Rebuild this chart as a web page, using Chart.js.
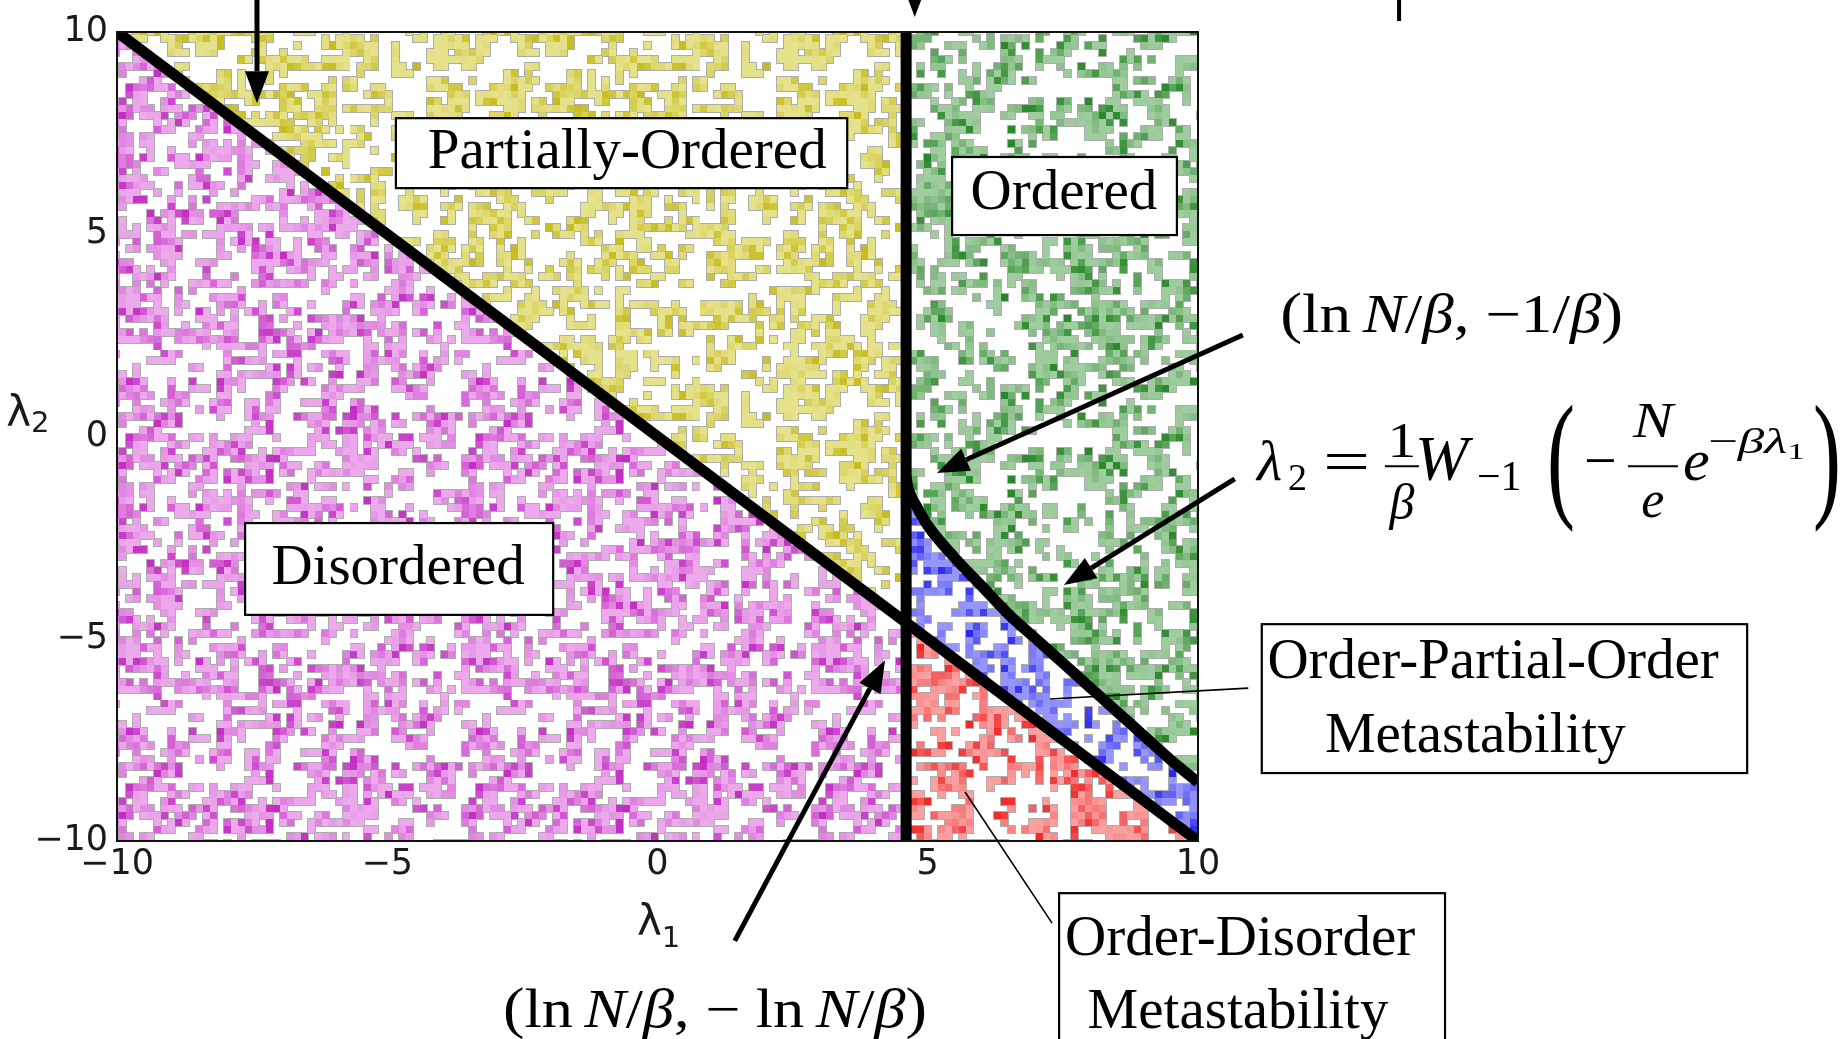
<!DOCTYPE html>
<html>
<head>
<meta charset="utf-8">
<script src="https://cdn.jsdelivr.net/npm/chart.js@4.4.0/dist/chart.umd.min.js"></script>
<style>
html, body { margin: 0; padding: 0; background: #fff; }
#wrap { width: 1844px; height: 1039px; position: relative; }
</style>
</head>
<body>
<div id="wrap"><canvas id="phase"></canvas></div>
<script>
// tick labels
const xTicks = [-10, -5, 0, 5, 10]
const yTicks = [-10, -5, 0, 5, 10]

// phase boundaries (lambda1, lambda2)
const diagX = [-10, 4.6]
const diagY = [10, -4.6]
const vertX = [4.6, 4.6]
const vertY = [-10, 10]
const curveX = [4.6, 4.63, 4.7, 4.8, 5.0, 5.5, 6.0, 6.5, 7.0, 7.5, 8.0, 8.5, 9.0, 9.5, 10]
const curveY = [-1.0, -1.25, -1.5, -1.75, -2.2, -3.0, -3.7, -4.4, -5.0, -5.6, -6.2, -6.8, -7.4, -8.0, -8.55]
const lowX = [4.6, 10]
const lowY = [-4.6, -10]

// phase regions (corners)
const disorderedX = [-10, 4.6, 4.6, -10, -10]
const disorderedY = [10, -4.6, -10, -10, 10]
const partialX = [-10, 4.6, 4.6, -10]
const partialY = [10, 10, -4.6, 10]
const orderedX = [4.6, 10].concat(curveX.slice().reverse())
const orderedY = [10, 10].concat(curveY.slice().reverse())
const opoX = curveX.concat([10, 4.6])
const opoY = curveY.concat([-10, -4.6])
const odX = [4.6, 10, 4.6, 4.6]
const odY = [-4.6, -10, -10, -4.6]

const pts = (xs, ys) => xs.map((x, i) => ({x: x, y: ys[i]}))

const canvas = document.getElementById("phase")
const ctx0 = canvas.getContext("2d")

// speckle texture standing in for the sampled points (style only)
function hash(i, j, s) {
  let h = Math.imul(i, 73856093) ^ Math.imul(j, 19349663) ^ Math.imul(s, 83492791)
  h = Math.imul(h ^ (h >>> 16), 0x85ebca6b)
  h = Math.imul(h ^ (h >>> 13), 0xc2b2ae35)
  h ^= h >>> 16
  return (h >>> 0) / 4294967296
}
function mix(a, b, t) {
  return "rgb(" + a.map((v, k) => Math.round(v + (b[k] - v) * t)).join(",") + ")"
}
function speckle(light, dark, seed) {
  const cell = 7, n = 50
  const tile = document.createElement("canvas")
  tile.width = tile.height = cell * n
  const g = tile.getContext("2d")
  const w = (i) => (i + n) % n
  const on = []
  for (let i = 0; i < n; i++) {
    for (let j = 0; j < n; j++) {
      const v = 3 * hash(i, j, seed) + hash(w(i + 1), j, seed) + hash(w(i - 1), j, seed) +
        hash(i, w(j + 1), seed) + hash(i, w(j - 1), seed)
      if (v > 3.55) on.push([i, j])
    }
  }
  g.fillStyle = "rgba(165,165,165,0.9)"
  on.forEach(([i, j]) => g.fillRect(i * cell - 1, j * cell - 1, cell + 2, cell + 2))
  g.filter = "blur(0.7px)"
  on.forEach(([i, j]) => {
    const t = hash(j + 31, i + 17, seed + 7)
    g.fillStyle = mix(light, dark, t * t * t)
    g.fillRect(i * cell, j * cell, cell, cell)
  })
  return ctx0.createPattern(tile, "repeat")
}

const magenta = speckle([236, 170, 236], [195, 45, 195], 1)
const yellow = speckle([230, 226, 140], [198, 188, 30], 2)
const green = speckle([160, 205, 160], [40, 135, 40], 3)
const blue = speckle([150, 150, 250], [40, 40, 240], 4)
const red = speckle([250, 160, 160], [240, 40, 40], 5)

function boundary(label, data, extra) {
  return Object.assign({
    label: label, data: data, borderColor: "#000", borderWidth: 11,
    pointRadius: 0, fill: false, tension: 0, order: 0
  }, extra || {})
}
function region(label, data, pattern) {
  return {
    label: label, data: data, backgroundColor: pattern, borderWidth: 0,
    borderColor: "rgba(0,0,0,0)", pointRadius: 0, fill: "shape", tension: 0, order: 5
  }
}

// annotation layout in data coordinates
const arrows = [
  [-7.41, 10.91, -7.41, 8.24],
  [4.76, 10.91, 4.76, 10.37],
  [10.83, 2.51, 5.17, -0.90],
  [10.68, -1.05, 7.52, -3.67],
  [1.43, -12.47, 4.21, -5.53]
]
const thinLines = [
  [7.26, -6.49, 10.93, -6.22],
  [5.69, -8.79, 7.30, -12.03]
]
const boxes = [
  {x0: -4.84, x1: 3.51, y0: 7.87, y1: 6.14, lines: [["Partially-Ordered", -0.56, 7.01]]},
  {x0: 5.45, x1: 9.61, y0: 6.91, y1: 4.98, lines: [["Ordered", 7.52, 6.0]]},
  {x0: -7.63, x1: -1.93, y0: -2.14, y1: -4.41, lines: [["Disordered", -4.80, -3.28]]},
  {x0: 11.18, x1: 20.16, y0: -4.64, y1: -8.32, lines: [["Order-Partial-Order", 15.46, -5.60], ["Metastability", 15.13, -7.43]]},
  {x0: 7.43, x1: 14.57, y0: -11.29, y1: -15.3, lines: [["Order-Disorder", 10.78, -12.45], ["Metastability", 10.74, -14.25]]}
]

const SERIF = "'Liberation Serif', 'Times New Roman', serif"
const up = s => s + "px " + SERIF
const it = s => "italic " + s + "px " + SERIF

function drawRuns(ctx, runs, x, y, width) {
  let total = 0
  runs.forEach(r => { ctx.font = r[1]; total += ctx.measureText(r[0]).width })
  const k = width ? width / total : 1
  ctx.save()
  ctx.translate(x, y)
  ctx.scale(k, 1)
  ctx.textAlign = "left"
  ctx.textBaseline = "alphabetic"
  let cx = 0
  runs.forEach(r => {
    ctx.font = r[1]
    ctx.fillText(r[0], cx, r[2] || 0)
    cx += ctx.measureText(r[0]).width
  })
  ctx.restore()
}

function arrow(ctx, x1, y1, x2, y2) {
  const ang = Math.atan2(y2 - y1, x2 - x1)
  const head = 32, half = 12
  const bx = x2 - head * Math.cos(ang), by = y2 - head * Math.sin(ang)
  ctx.beginPath()
  ctx.lineWidth = 5
  ctx.moveTo(x1, y1)
  ctx.lineTo(bx, by)
  ctx.stroke()
  ctx.beginPath()
  ctx.moveTo(x2, y2)
  ctx.lineTo(bx + half * Math.sin(ang), by - half * Math.cos(ang))
  ctx.lineTo(bx - half * Math.sin(ang), by + half * Math.cos(ang))
  ctx.closePath()
  ctx.fill()
}

const annotate = {
  id: "annotate",
  afterDraw(chart) {
    const ctx = chart.ctx
    const sx = chart.scales.x, sy = chart.scales.y
    const X = v => sx.getPixelForValue(v)
    const Y = v => sy.getPixelForValue(v)
    const a = chart.chartArea
    ctx.save()
    ctx.strokeStyle = "#111"
    ctx.lineWidth = 2
    ctx.strokeRect(a.left, a.top, a.right - a.left, a.bottom - a.top)

    ctx.strokeStyle = "#000"
    ctx.fillStyle = "#000"
    arrows.forEach(r => arrow(ctx, X(r[0]), Y(r[1]), X(r[2]), Y(r[3])))
    // short stub at the top right
    ctx.lineWidth = 4
    ctx.beginPath()
    ctx.moveTo(X(13.72), Y(10.91))
    ctx.lineTo(X(13.72), Y(10.27))
    ctx.stroke()

    ctx.lineWidth = 1.6
    thinLines.forEach(r => {
      ctx.beginPath()
      ctx.moveTo(X(r[0]), Y(r[1]))
      ctx.lineTo(X(r[2]), Y(r[3]))
      ctx.stroke()
    })

    boxes.forEach(b => {
      const x0 = X(b.x0), x1 = X(b.x1), y0 = Y(b.y0), y1 = Y(b.y1)
      ctx.fillStyle = "#fff"
      ctx.fillRect(x0, y0, x1 - x0, y1 - y0)
      ctx.strokeStyle = "#000"
      ctx.lineWidth = 2.2
      ctx.strokeRect(x0, y0, x1 - x0, y1 - y0)
      ctx.fillStyle = "#000"
      ctx.font = up(57)
      ctx.textAlign = "center"
      ctx.textBaseline = "middle"
      b.lines.forEach(l => ctx.fillText(l[0], X(l[1]), Y(l[2])))
    })

    // axis labels
    ctx.fillStyle = "#1a1a1a"
    const SANS = "'DejaVu Sans', sans-serif"
    drawRuns(ctx, [["λ", "42px " + SANS], ["1", "29px " + SANS, 12]], X(-0.38), Y(-12.32))
    drawRuns(ctx, [["λ", "42px " + SANS], ["2", "29px " + SANS, 6]], X(-12.05), Y(0.26))

    // formulas
    ctx.fillStyle = "#000"
    drawRuns(ctx, [["(", up(56)], ["ln", up(54)], [" ", up(40)], ["N", it(54)], ["/", up(54)], ["β", it(54)],
      [", ", up(54)], ["−1/", up(54)], ["β", it(54)], [")", up(56)]], X(11.52), Y(2.58), 343)
    drawRuns(ctx, [["(", up(56)], ["ln", up(54)], [" ", up(40)], ["N", it(54)], ["/", up(54)], ["β", it(54)],
      [", ", up(54)], ["− ln", up(54)], [" ", up(40)], ["N", it(54)], ["/", up(54)], ["β", it(54)], [")", up(56)]],
      X(-2.86), Y(-14.60), 424)

    // lambda_2 = 1/beta W_-1 ( -N/e e^{-beta lambda_1} )
    const fx = X(11.09), fy = Y(-1.08)
    const put = (t, f, dx, dy, align, k) => {
      ctx.save()
      ctx.font = f
      ctx.textAlign = align || "left"
      ctx.textBaseline = "alphabetic"
      ctx.translate(fx + dx, fy + dy)
      ctx.scale(k || 1, 1)
      ctx.fillText(t, 0, 0)
      ctx.restore()
    }
    put("λ", it(58), 0, 0)
    put("2", up(38), 31, 10)
    put("=", up(62), 66, 2, "left", 1.35)
    put("1", up(50), 145, -23, "center", 1.15)
    put("β", it(50), 145, 39, "center")
    put("W", it(64), 158, 0)
    put("−1", up(42), 220, 10)
    put("−", up(58), 327, 0)
    put("N", it(50), 396, -43, "center", 1.2)
    put("e", it(52), 396, 37, "center")
    put("e", it(60), 426, 0)
    drawRuns(ctx, [["−", up(36)], ["β", it(36)], ["λ", it(36)], ["1", up(24), 6]], fx + 451, fy - 27, 97)
    ctx.lineWidth = 2
    ctx.beginPath()
    ctx.moveTo(fx + 128, fy - 14); ctx.lineTo(fx + 162, fy - 14)
    ctx.moveTo(fx + 371, fy - 14); ctx.lineTo(fx + 421, fy - 14)
    ctx.stroke()
    // tall parentheses
    put("(", up(140), 290, 22, "left", 0.6)
    put(")", up(140), 556, 22, "left", 0.6)
    ctx.restore()
  }
}

const tickFont = {family: "'DejaVu Sans', sans-serif", size: 35}
const minus = v => (v < 0 ? "\u2212" + Math.abs(v) : "" + v)

new Chart(canvas, {
  type: "line",
  data: {
    datasets: [
      boundary("diagonal", pts(diagX, diagY)),
      boundary("vertical", pts(vertX, vertY)),
      boundary("W-1 curve", pts(curveX, curveY), {cubicInterpolationMode: "monotone"}),
      boundary("lower", pts(lowX, lowY)),
      region("Disordered", pts(disorderedX, disorderedY), magenta),
      region("Partially-Ordered", pts(partialX, partialY), yellow),
      region("Ordered", pts(orderedX, orderedY), green),
      region("Order-Partial-Order", pts(opoX, opoY), blue),
      region("Order-Disorder", pts(odX, odY), red)
    ]
  },
  options: {
    responsive: true,
    maintainAspectRatio: false,
    devicePixelRatio: 1,
    animation: false,
    layout: { padding: { left: 17, top: 32, right: 646, bottom: 138 } },
    plugins: { legend: { display: false }, tooltip: { enabled: false } },
    scales: {
      x: {
        type: "linear", min: -10, max: 10,
        grid: { display: false, drawTicks: false },
        border: { display: false },
        afterBuildTicks: s => { s.ticks = xTicks.map(v => ({value: v})) },
        afterFit: s => { s.height = 60 },
        ticks: { font: tickFont, color: "#1a1a1a", padding: 3, maxRotation: 0, callback: minus }
      },
      y: {
        type: "linear", min: -10, max: 10,
        grid: { display: false, drawTicks: false },
        border: { display: false },
        afterBuildTicks: s => { s.ticks = yTicks.map(v => ({value: v})) },
        afterFit: s => { s.width = 100 },
        ticks: { font: tickFont, color: "#1a1a1a", padding: 9, callback: minus }
      }
    }
  },
  plugins: [annotate]
})
</script>
</body>
</html>
